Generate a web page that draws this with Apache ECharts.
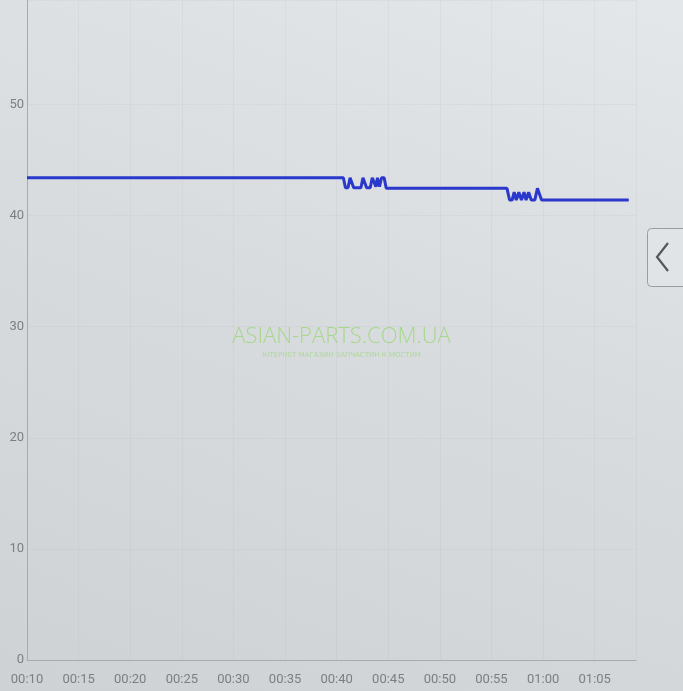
<!DOCTYPE html>
<html>
<head>
<meta charset="utf-8">
<script src="https://cdn.jsdelivr.net/npm/echarts@6/dist/echarts.min.js"></script>
<style>
html,body{margin:0;padding:0;}
body{width:683px;height:691px;overflow:hidden;background:linear-gradient(200deg,#e4e7e9 0%,#d8dcdf 45%,#ced2d5 100%);}
#c{width:683px;height:691px;}
</style>
</head>
<body>
<div id="c"></div>
<script>
// time in minutes since 00:00
const times = [10, 40.65, 40.85, 41.1, 41.3, 41.45, 41.65, 42.35, 42.55, 42.7, 42.9, 43.25, 43.45, 43.6, 43.8, 43.95, 44.15, 44.35, 44.6, 44.8,
  56.5, 56.75, 57.0, 57.2, 57.4, 57.65, 57.9, 58.15, 58.35, 58.6, 58.85, 59.2, 59.45, 59.6, 59.85, 68.3];
const values = [43.4, 43.4, 42.5, 42.5, 43.4, 43.4, 42.5, 42.5, 43.4, 43.4, 42.5, 42.5, 43.4, 43.4, 42.6, 43.4, 42.6, 43.4, 43.4, 42.45,
  42.45, 41.4, 41.4, 42.1, 41.4, 42.1, 41.4, 42.1, 41.4, 42.1, 41.4, 41.4, 42.45, 42.45, 41.4, 41.4];
const yMin = 0, yMax = 59.4, yStep = 10;
const xMin = 10, xMax = 69, xStep = 5;

const pad = n => String(n).padStart(2, '0');
const fmt = v => pad(Math.floor(v / 60)) + ':' + pad(Math.round(v % 60));

const chart = echarts.init(document.getElementById('c'), null, {renderer: 'canvas'});
chart.setOption({
  backgroundColor: 'transparent',
  animation: false,
  grid: {left: 27, right: 47, top: 0, bottom: 31, containLabel: false},
  xAxis: {
    type: 'value', min: xMin, max: xMax, interval: xStep,
    axisLine: {show: true, lineStyle: {color: '#a7abae', width: 1}},
    axisTick: {show: false},
    splitLine: {show: true, lineStyle: {color: 'rgba(150,155,160,0.09)', width: 1}},
    axisLabel: {color: '#7c7f82', fontSize: 13, fontFamily: 'Roboto, sans-serif', margin: 13,
      showMaxLabel: false, formatter: fmt}
  },
  yAxis: {
    type: 'value', min: yMin, max: yMax, interval: yStep,
    axisLine: {show: true, lineStyle: {color: '#a7abae', width: 1}},
    axisTick: {show: false},
    splitLine: {show: true, lineStyle: {color: 'rgba(150,155,160,0.09)', width: 1}},
    axisLabel: {color: '#7c7f82', fontSize: 13, fontFamily: 'Roboto, sans-serif', margin: 3, showMaxLabel: false}
  },
  graphic: [
    {type: 'rect', left: 647, top: 228, shape: {width: 42, height: 58, r: 4},
      style: {fill: 'rgba(230,232,234,0.5)', stroke: '#9a9da0', lineWidth: 1}},
    {type: 'polyline', shape: {points: [[668, 243], [657, 257], [668, 271]]},
      style: {stroke: '#55585b', lineWidth: 2.2, fill: null}},
    {type: 'text', left: 'center', top: 326, x: -2,
      style: {text: 'ASIAN-PARTS.COM.UA', fill: 'rgba(150,215,110,0.75)', font: '300 22px "Open Sans", sans-serif'}},
    {type: 'text', left: 'center', top: 352,
      style: {text: 'ІНТЕРНЕТ МАГАЗИН ЗАПЧАСТИН К МОСТИМ', fill: 'rgba(150,215,110,0.6)', font: '7px "DejaVu Sans", sans-serif'}}
  ],
  series: [{
    type: 'line',
    data: times.map((t, i) => [t, values[i]]),
    showSymbol: false,
    lineStyle: {color: '#2a38cc', width: 3},
    itemStyle: {color: '#2a38cc'}
  }]
});
</script>
</body>
</html>
